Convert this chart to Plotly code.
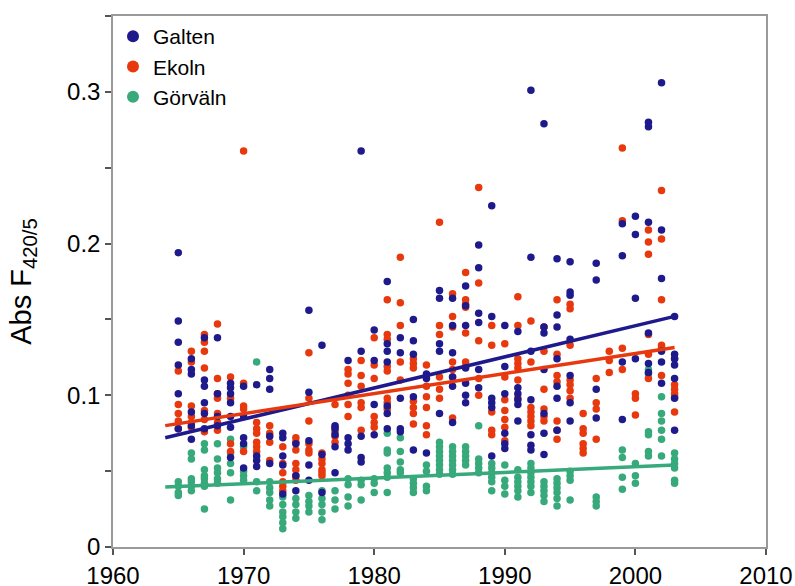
import plotly.graph_objects as go

# Annual absorbance samples (Abs F420/5) per lake, keyed by year
galten = {
    1965: [0.194, 0.149, 0.135, 0.120, 0.101, 0.078],
    1966: [0.124, 0.117, 0.114, 0.089, 0.080, 0.071],
    1967: [0.138, 0.110, 0.106, 0.095, 0.088, 0.078],
    1968: [0.138, 0.101, 0.086, 0.080],
    1969: [0.108, 0.105, 0.101, 0.095, 0.086, 0.079, 0.059],
    1970: [0.106, 0.086, 0.072, 0.068, 0.052],
    1971: [0.107, 0.060, 0.057, 0.053],
    1972: [0.117, 0.111, 0.104, 0.073, 0.055],
    1973: [0.075, 0.072, 0.060, 0.054, 0.035],
    1974: [0.068, 0.047, 0.037],
    1975: [0.156, 0.102, 0.070, 0.054, 0.044],
    1976: [0.133, 0.061, 0.036],
    1977: [0.080, 0.078, 0.074, 0.066, 0.049],
    1978: [0.123, 0.072, 0.068, 0.064],
    1979: [0.261, 0.129, 0.073, 0.059, 0.056],
    1980: [0.143, 0.123, 0.094, 0.074],
    1981: [0.175, 0.134, 0.129, 0.122, 0.093, 0.088, 0.078],
    1982: [0.138, 0.128, 0.098, 0.078, 0.076],
    1983: [0.150, 0.136, 0.127, 0.099, 0.064],
    1984: [0.114, 0.111, 0.062],
    1985: [0.169, 0.164, 0.134, 0.129, 0.088],
    1986: [0.164, 0.146, 0.128, 0.112, 0.106, 0.082],
    1987: [0.172, 0.159, 0.146, 0.118, 0.108, 0.100, 0.095],
    1988: [0.199, 0.184, 0.154, 0.148, 0.117, 0.105],
    1989: [0.225, 0.152, 0.098, 0.095, 0.092, 0.060],
    1990: [0.146, 0.119, 0.101, 0.075, 0.068, 0.065],
    1991: [0.142, 0.105, 0.101, 0.097, 0.094, 0.083],
    1992: [0.301, 0.191, 0.129, 0.097, 0.074, 0.067, 0.064],
    1993: [0.279, 0.145, 0.141, 0.117, 0.088, 0.075, 0.061],
    1994: [0.190, 0.153, 0.145, 0.124, 0.106, 0.098, 0.077],
    1995: [0.188, 0.168, 0.166, 0.137, 0.113, 0.095, 0.083],
    1997: [0.187, 0.176, 0.104, 0.085],
    1999: [0.213, 0.192, 0.122, 0.084],
    2000: [0.218, 0.206, 0.164, 0.124],
    2001: [0.280, 0.277, 0.214, 0.141, 0.121, 0.115],
    2002: [0.306, 0.209, 0.177, 0.129, 0.122, 0.108],
    2003: [0.152, 0.127, 0.124, 0.120, 0.111, 0.098, 0.077],
}

ekoln = {
    1965: [0.116, 0.094, 0.088, 0.083, 0.078],
    1966: [0.129, 0.122, 0.093, 0.086, 0.082, 0.079],
    1967: [0.140, 0.135, 0.129, 0.118, 0.090, 0.084, 0.076],
    1968: [0.147, 0.111, 0.101, 0.098, 0.088, 0.082, 0.077],
    1969: [0.112, 0.098, 0.068, 0.063],
    1970: [0.261, 0.108, 0.093, 0.091, 0.063],
    1971: [0.082, 0.078, 0.075, 0.069, 0.066, 0.063],
    1972: [0.080, 0.075, 0.069, 0.057],
    1973: [0.066, 0.055, 0.049, 0.043, 0.040, 0.037],
    1974: [0.072, 0.069, 0.064, 0.055, 0.051, 0.047, 0.044],
    1975: [0.128, 0.098, 0.083, 0.068, 0.064, 0.062],
    1976: [0.062, 0.058, 0.055, 0.051, 0.049, 0.047],
    1977: [0.094, 0.079, 0.076, 0.073, 0.069],
    1978: [0.117, 0.114, 0.108, 0.100, 0.094, 0.086],
    1979: [0.123, 0.113, 0.106, 0.095, 0.092, 0.077],
    1980: [0.138, 0.120, 0.111, 0.086, 0.082, 0.079],
    1981: [0.163, 0.140, 0.137, 0.119, 0.116, 0.098, 0.095, 0.091],
    1982: [0.191, 0.161, 0.146, 0.122, 0.110],
    1983: [0.124, 0.121, 0.118, 0.096, 0.092, 0.088, 0.081],
    1984: [0.120, 0.106, 0.099, 0.092, 0.080, 0.074],
    1985: [0.214, 0.146, 0.140, 0.112, 0.104, 0.098],
    1986: [0.167, 0.152, 0.145, 0.122, 0.117, 0.112, 0.085],
    1987: [0.181, 0.163, 0.160, 0.158, 0.141, 0.122, 0.119],
    1988: [0.237, 0.174, 0.136, 0.111, 0.100],
    1989: [0.146, 0.133, 0.089, 0.077, 0.074],
    1990: [0.134, 0.112, 0.097, 0.090, 0.084, 0.079, 0.070],
    1991: [0.165, 0.146, 0.124, 0.121, 0.118, 0.110, 0.098],
    1992: [0.149, 0.122, 0.092, 0.089, 0.086, 0.083, 0.080],
    1993: [0.145, 0.129, 0.104, 0.091, 0.086, 0.083],
    1994: [0.163, 0.127, 0.113, 0.109, 0.083, 0.077, 0.071],
    1995: [0.160, 0.157, 0.133, 0.110, 0.107, 0.103, 0.098],
    1996: [0.088, 0.078, 0.075, 0.068, 0.065, 0.062],
    1997: [0.111, 0.095, 0.091, 0.071],
    1998: [0.129, 0.123, 0.115],
    1999: [0.263, 0.215, 0.131, 0.117],
    2000: [0.101, 0.098, 0.087],
    2001: [0.209, 0.201, 0.193, 0.140, 0.127, 0.111],
    2002: [0.235, 0.203, 0.163, 0.133, 0.131, 0.113],
    2003: [0.124, 0.107, 0.104, 0.101, 0.099, 0.089],
}

gorvaln = {
    1965: [0.043, 0.040, 0.036, 0.034],
    1966: [0.062, 0.058, 0.045, 0.043, 0.040, 0.037],
    1967: [0.068, 0.064, 0.051, 0.047, 0.045, 0.042, 0.040, 0.025],
    1968: [0.068, 0.058, 0.052, 0.049, 0.045, 0.042],
    1969: [0.071, 0.062, 0.055, 0.049, 0.031],
    1970: [0.066, 0.050, 0.047, 0.044],
    1971: [0.122, 0.043, 0.037],
    1972: [0.043, 0.039, 0.036, 0.031, 0.027],
    1973: [0.033, 0.028, 0.023, 0.020, 0.016, 0.012],
    1974: [0.032, 0.028, 0.023, 0.019],
    1975: [0.034, 0.030, 0.027, 0.023],
    1976: [0.037, 0.032, 0.028, 0.023, 0.018],
    1977: [0.037, 0.031, 0.025],
    1978: [0.045, 0.041, 0.033, 0.027],
    1979: [0.044, 0.041, 0.031],
    1980: [0.045, 0.042, 0.036],
    1981: [0.075, 0.064, 0.062, 0.052, 0.049, 0.046, 0.036],
    1982: [0.072, 0.063, 0.056, 0.051, 0.049],
    1983: [0.045, 0.042, 0.039, 0.036],
    1984: [0.054, 0.050, 0.040, 0.037],
    1985: [0.069, 0.066, 0.063, 0.060, 0.057, 0.054, 0.051, 0.048],
    1986: [0.066, 0.063, 0.060, 0.057, 0.054, 0.051, 0.048],
    1987: [0.066, 0.063, 0.060, 0.057, 0.054],
    1988: [0.080, 0.058, 0.055, 0.052, 0.049],
    1989: [0.055, 0.052, 0.049, 0.046, 0.043, 0.037],
    1990: [0.054, 0.044, 0.040, 0.035],
    1991: [0.051, 0.046, 0.043, 0.040, 0.037, 0.033],
    1992: [0.055, 0.052, 0.049, 0.046, 0.043, 0.040, 0.036],
    1993: [0.043, 0.040, 0.037, 0.034, 0.030],
    1994: [0.045, 0.042, 0.039, 0.036, 0.032, 0.027],
    1995: [0.050, 0.047, 0.044, 0.031],
    1997: [0.033, 0.030, 0.027],
    1999: [0.064, 0.059, 0.046, 0.038],
    2000: [0.055, 0.047, 0.042],
    2001: [0.117, 0.114, 0.076, 0.074, 0.063, 0.060],
    2002: [0.099, 0.088, 0.083, 0.077, 0.071, 0.060],
    2003: [0.062, 0.058, 0.055, 0.052, 0.044, 0.042],
}

# Linear trend endpoints per lake
trend_years = [1964, 2003]
galten_trend = [0.072, 0.152]
ekoln_trend = [0.080, 0.1315]
gorvaln_trend = [0.0395, 0.054]

y_ticks = [0, 0.05, 0.1, 0.15, 0.2, 0.25, 0.3, 0.35]
y_ticklabels = ["0", "", "0.1", "", "0.2", "", "0.3", ""]
x_ticks = [1960, 1970, 1980, 1990, 2000, 2010]

colors = {"Galten": "#1e1a8c", "Ekoln": "#e8380d", "Görväln": "#37a97b"}
FONT = "Liberation Sans, Arial, sans-serif"


def flatten(samples):
    xs, ys = [], []
    for year, vals in samples.items():
        for v in vals:
            xs.append(year)
            ys.append(v)
    return xs, ys


fig = go.Figure()

# points: drawn green first, then red, then blue
for name, samples, rank in [("Görväln", gorvaln, 3), ("Ekoln", ekoln, 2), ("Galten", galten, 1)]:
    xs, ys = flatten(samples)
    fig.add_trace(go.Scatter(
        x=xs, y=ys, mode="markers", name=name, legendrank=rank,
        marker=dict(color=colors[name], size=7.5, line=dict(width=0)),
    ))

for name, tr in [("Galten", galten_trend), ("Ekoln", ekoln_trend), ("Görväln", gorvaln_trend)]:
    fig.add_trace(go.Scatter(
        x=trend_years, y=tr, mode="lines", showlegend=False,
        line=dict(color=colors[name], width=3.5),
    ))

axis_common = dict(
    showline=True, linecolor="#9a9a9a", linewidth=1.5, mirror=True,
    ticks="outside", ticklen=6, tickwidth=1.5, tickcolor="#555555",
    showgrid=False, zeroline=False, automargin=False,
    tickfont=dict(family=FONT, size=24, color="#000000"),
)

fig.update_layout(
    width=795, height=586,
    margin=dict(l=113, r=29, t=16, b=39, autoexpand=False),
    paper_bgcolor="white", plot_bgcolor="white",
    font=dict(family=FONT, color="#000000"),
    showlegend=True,
    legend=dict(
        x=0.0, y=1.0, xanchor="left", yanchor="top",
        bgcolor="rgba(0,0,0,0)", borderwidth=0,
        font=dict(family=FONT, size=21, color="#000000"),
        traceorder="normal", itemsizing="constant",
        tracegroupgap=0,
    ),
    xaxis=dict(range=[1960, 2010], tickvals=x_ticks, **axis_common),
    yaxis=dict(
        range=[0, 0.35], tickvals=y_ticks, ticktext=y_ticklabels,
        title=dict(text="Abs F<sub>420/5</sub>", font=dict(size=29, family=FONT), standoff=27),
        **axis_common,
    ),
)

fig.write_html("out.html")
